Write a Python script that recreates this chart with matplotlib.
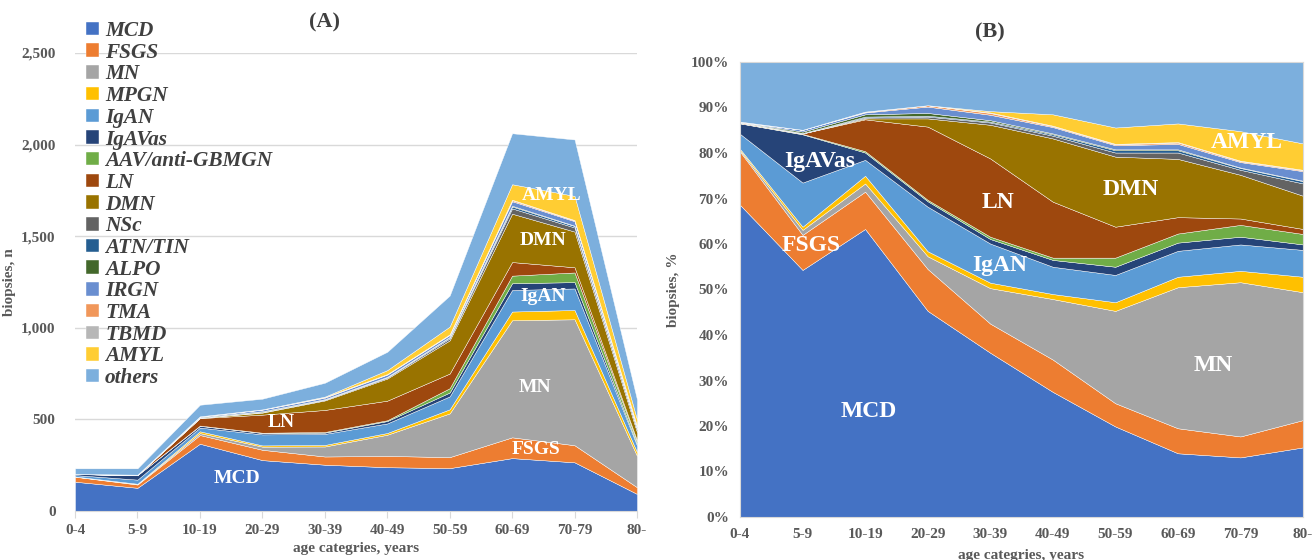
import numpy as np
import matplotlib.pyplot as plt
from matplotlib.ticker import FuncFormatter, PercentFormatter

plt.rcParams['font.family'] = ['Liberation Serif', 'DejaVu Serif']

ages = ['0-4', '5-9', '10-19', '20-29', '30-39', '40-49', '50-59', '60-69', '70-79', '80-']
totals = [233, 233, 580, 613, 700, 869, 1176, 2062, 2028, 609]

# share of each diagnosis within age group, %
MCD = [68.6, 54.3, 63.3, 45.3, 36.1, 27.5, 19.9, 14.0, 13.1, 15.3]
FSGS = [11.7, 7.7, 8.2, 9.2, 6.4, 7.1, 5.1, 5.5, 4.6, 6.0]
MN = [0.3, 1.1, 1.8, 2.8, 7.8, 13.3, 20.3, 31.0, 33.9, 28.1]
MPGN = [0.3, 0.7, 1.7, 1.1, 1.2, 1.1, 1.9, 2.3, 2.5, 3.4]
IgAN = [3.3, 9.7, 3.5, 9.8, 8.6, 6.0, 6.0, 5.7, 5.8, 5.9]
IgAVas = [2.3, 10.6, 1.6, 1.2, 1.0, 1.5, 1.8, 1.8, 1.7, 1.2]
AAV = [0.05, 0.1, 0.3, 0.3, 0.5, 0.5, 2.0, 2.0, 2.6, 2.3]
LN = [0.15, 0.1, 7.0, 16.1, 17.2, 12.3, 6.8, 3.6, 1.4, 1.1]
DMN = [0.0, 0.0, 0.2, 1.8, 7.4, 13.9, 15.4, 12.8, 9.6, 7.3]
NSc = [0.0, 0.0, 0.2, 0.4, 0.5, 0.6, 0.9, 1.4, 1.1, 2.7]
ATN_TIN = [0.05, 0.1, 0.2, 0.2, 0.2, 0.3, 0.5, 0.5, 0.4, 0.5]
ALPO = [0.05, 0.3, 0.5, 0.6, 0.3, 0.2, 0.2, 0.2, 0.1, 0.1]
IRGN = [0.0, 0.4, 0.4, 1.4, 1.2, 1.4, 0.9, 1.2, 1.2, 2.1]
TMA = [0.1, 0.0, 0.1, 0.3, 0.4, 0.2, 0.2, 0.3, 0.2, 0.2]
TBMD = [0.0, 0.0, 0.1, 0.0, 0.1, 0.1, 0.1, 0.1, 0.1, 0.1]
AMYL = [0.0, 0.0, 0.0, 0.0, 0.3, 2.5, 3.6, 4.1, 6.5, 5.8]
others = [13.1, 14.9, 10.9, 9.5, 10.8, 11.5, 14.4, 13.5, 15.2, 17.9]

names = ['MCD', 'FSGS', 'MN', 'MPGN', 'IgAN', 'IgAVas', 'AAV/anti-GBMGN', 'LN', 'DMN',
         'NSc', 'ATN/TIN', 'ALPO', 'IRGN', 'TMA', 'TBMD', 'AMYL', 'others']
series = [MCD, FSGS, MN, MPGN, IgAN, IgAVas, AAV, LN, DMN, NSc, ATN_TIN, ALPO, IRGN,
          TMA, TBMD, AMYL, others]
colors = ['#4472C4', '#ED7D31', '#A5A5A5', '#FFC000', '#5B9BD5', '#264478', '#70AD47',
          '#9E480E', '#997300', '#636363', '#255E91', '#43682B', '#698ED0', '#F1975A',
          '#B7B7B7', '#FFCD33', '#7CAFDD']

pct = np.array(series, dtype=float)
pct = pct / pct.sum(axis=0) * 100
counts = pct * np.array(totals, dtype=float) / 100
x = np.arange(len(ages))

W, H = 1312, 560
fig = plt.figure(figsize=(W / 100, H / 100), dpi=100)

tick_col = '#595959'
grid_col = '#D9D9D9'

# ---------------- Panel A ----------------
axA = fig.add_axes([75 / W, 1 - 511 / H, (637 - 75) / W, (511 - 53) / H])
polysA = axA.stackplot(x, counts, colors=colors, labels=names, edgecolor='white', linewidth=0.3)
axA.set_xlim(0, 9)
axA.set_ylim(0, 2500)
axA.set_yticks([0, 500, 1000, 1500, 2000, 2500])
axA.yaxis.set_major_formatter(FuncFormatter(lambda v, p: f'{int(v):,}'))
axA.set_xticks(x)
axA.set_xticklabels(ages)
axA.grid(axis='y', color=grid_col, linewidth=1)
axA.set_axisbelow(True)
for s in ['top', 'right', 'left']:
    axA.spines[s].set_visible(False)
axA.spines['bottom'].set_color(grid_col)
axA.tick_params(axis='y', length=0, pad=14, labelsize=11, labelcolor=tick_col)
axA.tick_params(axis='x', length=5, color=grid_col, pad=4, labelsize=11, labelcolor=tick_col)
for lab in axA.get_xticklabels() + axA.get_yticklabels():
    lab.set_fontweight('bold')
axA.set_xlabel('age categries, years', fontsize=11, fontweight='bold', color=tick_col, labelpad=4)
axA.set_ylabel('biopsies, n', fontsize=11, fontweight='bold', color=tick_col, labelpad=4)

lblA = dict(color='white', fontsize=14, fontweight='bold', ha='center', va='center')
axA.text(2.6, 175, 'MCD', **lblA)
axA.text(7.38, 333, 'FSGS', **lblA)
axA.text(7.36, 672, 'MN', **lblA)
axA.text(7.5, 1169, 'IgAN', **lblA)
axA.text(7.49, 1475, 'DMN', **lblA)
axA.text(7.63, 1721, 'AMYL', **lblA)
axA.text(3.31, 481, 'LN', **lblA)

leg = axA.legend(handles=polysA, labels=names, loc='upper left',
                 bbox_to_anchor=(86 / W, 1 - 21 / H), bbox_transform=fig.transFigure,
                 frameon=False, fontsize=15.3, labelspacing=0.08, handlelength=0.6,
                 handleheight=0.6, handletextpad=0.3, borderaxespad=0, borderpad=0)
for t in leg.get_texts():
    t.set_fontstyle('italic')
    t.set_fontweight('bold')
    t.set_color('#404040')

fig.text(325 / W, 1 - 22 / H, '(A)', ha='center', va='center', fontsize=16,
         fontweight='bold', color='#404040')

# ---------------- Panel B ----------------
axB = fig.add_axes([740 / W, 1 - 517 / H, (1303 - 740) / W, (517 - 62) / H])
axB.stackplot(x, pct, colors=colors, edgecolor='white', linewidth=0.3)
axB.set_xlim(0, 9)
axB.set_ylim(0, 100)
axB.set_yticks(np.arange(0, 101, 10))
axB.yaxis.set_major_formatter(PercentFormatter(decimals=0))
axB.set_xticks(x)
axB.set_xticklabels(ages)
for s in axB.spines.values():
    s.set_color(grid_col)
axB.tick_params(axis='both', length=0, labelsize=11, labelcolor=tick_col)
axB.tick_params(axis='y', pad=8)
axB.tick_params(axis='x', pad=8)
for lab in axB.get_xticklabels() + axB.get_yticklabels():
    lab.set_fontweight('bold')
axB.set_xlabel('age categries, years', fontsize=11, fontweight='bold', color=tick_col, labelpad=6)
axB.set_ylabel('biopsies, %', fontsize=11, fontweight='bold', color=tick_col, labelpad=8)

lblB = dict(color='white', fontsize=17, fontweight='bold', ha='center', va='center')
axB.text(1.28, 78.1, 'IgAVas', **lblB)
axB.text(1.13, 59.6, 'FSGS', **lblB)
axB.text(4.12, 69.2, 'LN', **lblB)
axB.text(4.15, 55.2, 'IgAN', **lblB)
axB.text(6.25, 71.9, 'DMN', **lblB)
axB.text(8.1, 82.2, 'AMYL', **lblB)
axB.text(7.57, 33.2, 'MN', **lblB)
axB.text(2.06, 23.1, 'MCD', **lblB)

fig.text(990 / W, 1 - 32 / H, '(B)', ha='center', va='center', fontsize=16,
         fontweight='bold', color='#404040')

fig.savefig('out.png', dpi=100)
